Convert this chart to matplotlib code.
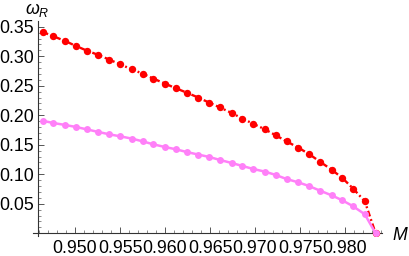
import matplotlib
matplotlib.use("Agg")
import matplotlib.pyplot as plt
from matplotlib.ticker import MultipleLocator, FormatStrFormatter

plt.rcParams['font.family'] = ['Liberation Sans', 'DejaVu Sans']
plt.rcParams['mathtext.fontset'] = 'custom'
plt.rcParams['mathtext.rm'] = 'Liberation Sans'
plt.rcParams['mathtext.it'] = 'Liberation Sans:italic'

# Data
M = [0.9464, 0.9476, 0.9489, 0.9501, 0.9513, 0.9526, 0.9538, 0.9550,
     0.9563, 0.9575, 0.9587, 0.9600, 0.9612, 0.9624, 0.9637, 0.9649,
     0.9661, 0.9674, 0.9686, 0.9698, 0.9711, 0.9723, 0.9735, 0.9748,
     0.9760, 0.9772, 0.9785, 0.9797, 0.9809, 0.9822, 0.9834]
w_red = [0.3412, 0.3339, 0.3259, 0.3175, 0.3097, 0.3022, 0.2944, 0.2865,
         0.2779, 0.2707, 0.2622, 0.2537, 0.2458, 0.2385, 0.2300, 0.2215,
         0.2133, 0.2039, 0.1945, 0.1856, 0.1762, 0.1661, 0.1559, 0.1452,
         0.1344, 0.1215, 0.1080, 0.0938, 0.0758, 0.0542, 0.0]
w_pink = [0.1907, 0.1869, 0.1836, 0.1802, 0.1762, 0.1717, 0.1678, 0.1644,
          0.1605, 0.1559, 0.1508, 0.1462, 0.1424, 0.1378, 0.1334, 0.1294,
          0.1243, 0.1192, 0.1141, 0.1090, 0.1045, 0.0989, 0.0920, 0.0864,
          0.0801, 0.0724, 0.0644, 0.0559, 0.0458, 0.0322, 0.0]
x_ticks = [0.950, 0.955, 0.960, 0.965, 0.970, 0.975, 0.980]
y_ticks = [0.05, 0.10, 0.15, 0.20, 0.25, 0.30, 0.35]

fig = plt.figure(figsize=(4.09, 2.56), dpi=100)
ax = fig.add_axes([33/409, 20/256, 349/409, 215/256])

# curvas
ax.plot(M, w_red, color='#ff0000', lw=1.7, ls=(0, (2.5, 1.2, 0.8, 1.2)),
        marker='o', ms=5.3, mew=0, zorder=3)
ax.plot(M, w_pink, color='#ff80f8', lw=1.8, ls='-',
        marker='o', ms=5.0, mew=0, zorder=4)

ax.set_xlim(0.945333, 0.984111)
ax.set_ylim(-0.0046, 0.3598)

# ejes estilo Mathematica
ax.spines['top'].set_visible(False)
ax.spines['right'].set_visible(False)
ax.spines['left'].set_position(('data', 0.945889))
ax.spines['bottom'].set_position(('data', 0.0))
for s in ['left', 'bottom']:
    ax.spines[s].set_color('#333333')
    ax.spines[s].set_linewidth(0.8)

ax.set_xticks(x_ticks)
ax.set_yticks(y_ticks)
ax.xaxis.set_major_formatter(FormatStrFormatter('%.3f'))
ax.yaxis.set_major_formatter(FormatStrFormatter('%.2f'))
ax.xaxis.set_minor_locator(MultipleLocator(0.001))
ax.yaxis.set_minor_locator(MultipleLocator(0.01))
ax.tick_params(which='major', direction='in', length=4, width=0.7,
               color='#555555', labelsize=12.8)
ax.tick_params(which='minor', direction='in', length=2.2, width=0.6,
               color='#777777')
ax.tick_params(axis='x', which='major', pad=5)
ax.tick_params(axis='y', which='major', pad=3)

fig.text(37/409, 1 - 10/256, r'$\omega_R$', fontsize=12.8, ha='center', va='center')
fig.text(400/409, 1 - 235/256, r'$M$', fontsize=12.8, ha='center', va='center')

plt.savefig("out.png", dpi=100)
